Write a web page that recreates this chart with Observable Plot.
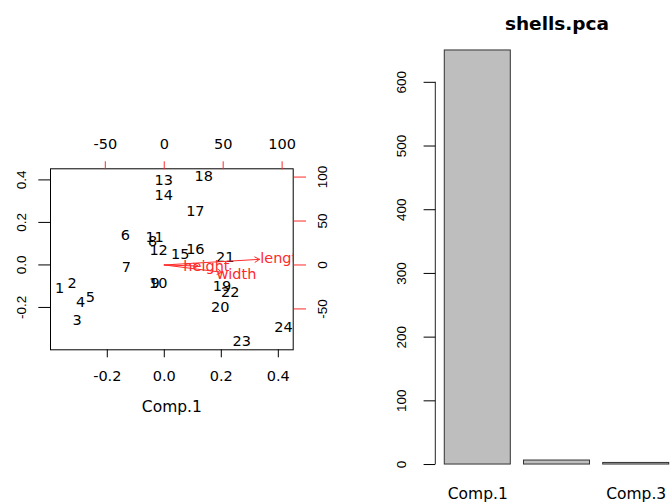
<!DOCTYPE html>
<html><head><meta charset="utf-8">
<script src="https://cdn.jsdelivr.net/npm/d3@7"></script>
<script src="https://cdn.jsdelivr.net/npm/@observablehq/plot@0.6"></script>
<style>
html,body{margin:0;padding:0;background:#fff;}
#fig{position:relative;width:671px;height:503px;overflow:hidden;background:#fff;}
.panel{position:absolute;top:0;}
</style></head><body><div id="fig"></div>
<script>
// ---- biplot data (scores on Comp.1 / Comp.2) ----
const sampleIds = ["1","2","3","4","5","6","7","8","9","10","11","12","13","14","15","16","17","18","19","20","21","22","23","24"];
const comp1 = [-0.367,-0.323,-0.306,-0.294,-0.259,-0.137,-0.133,-0.041,-0.032,-0.021,-0.034,-0.020,-0.002,-0.002,0.056,0.109,0.109,0.138,0.202,0.196,0.214,0.231,0.272,0.418];
const comp2 = [-0.112,-0.085,-0.261,-0.175,-0.151,0.139,-0.010,0.111,-0.088,-0.088,0.131,0.069,0.398,0.328,0.050,0.072,0.254,0.417,-0.099,-0.201,0.037,-0.128,-0.358,-0.292];
// ---- variable loadings ----
const varNames = ["length","width","height"];
const load1 = [101, 61.2, 35.8];
const load2 = [8, -10.4, -1.5];
// ---- scree data ----
const screeNames = ["Comp.1","Comp.2","Comp.3"];
const screeVar = [650, 6.3, 2.5];
const screeShown = ["Comp.1","Comp.3"];
// ---- ticks ----
const scoreTicks = [-0.2, 0, 0.2, 0.4];
const loadTicks = [-50, 0, 50, 100];
const screeTicks = [0, 100, 200, 300, 400, 500, 600];
const scoreLim = [-0.3992, 0.4522];
const loadLim = [-96.5, 109.4];

const RED = "#ff2a2a";
const WIDE = "DejaVu Sans";
const baseStyle = {background: "transparent", fontFamily: "Liberation Sans, Arial, sans-serif", color: "black", overflow: "visible"};

const scores = sampleIds.map((id, i) => ({id, c1: comp1[i], c2: comp2[i]}));
const vars = varNames.map((name, i) => ({name, l1: load1[i], l2: load2[i]}));
const scree = screeNames.map((name, i) => ({name, v: screeVar[i]}));

const H = 503, W1 = 380;
const m1 = {marginLeft: 50, marginRight: 87.3, marginTop: 168.3, marginBottom: 153.7};

const plotA = Plot.plot({
  width: W1, height: H, ...m1, style: baseStyle,
  x: {domain: scoreLim, label: null}, y: {domain: scoreLim, label: null},
  marks: [
    Plot.frame({stroke: "black"}),
    Plot.axisX(scoreTicks, {anchor: "bottom", label: null, tickSize: 8, tickPadding: 12.5, tickFormat: d => d.toFixed(1), fontSize: 14.5, fontFamily: WIDE}),
    Plot.axisY(scoreTicks, {anchor: "left", label: null, tickSize: 11.7, tickPadding: 13.3, tickRotate: -90, lineAnchor: "bottom", tickFormat: d => d.toFixed(1), fontSize: 13.5}),
    Plot.text(["Comp.1"], {frameAnchor: "bottom", dy: 61.7, fontSize: 15.5, fontFamily: WIDE}),
    Plot.text(scores, {x: "c1", y: "c2", text: "id", fontSize: 14.5, fontFamily: WIDE, fill: "black"})
  ]
});

const plotB = Plot.plot({
  width: W1, height: H, ...m1, style: baseStyle,
  x: {domain: loadLim, label: null}, y: {domain: loadLim, label: null},
  marks: [
    Plot.axisX(loadTicks, {anchor: "top", label: null, tickSize: 8, tickPadding: 12.3, stroke: RED, tickFormat: d => String(d), fontSize: 14.5, fontFamily: WIDE}),
    Plot.axisY(loadTicks, {anchor: "right", label: null, tickSize: 12.3, tickPadding: 11.7, tickRotate: -90, lineAnchor: "top", stroke: RED, tickFormat: d => String(d), fontSize: 13.5}),
    Plot.arrow(vars, {x1: d => 0, y1: d => 0, x2: d => 0.8 * d.l1, y2: d => 0.8 * d.l2, stroke: RED, strokeWidth: 1, headLength: 8}),
    Plot.text(vars, {x: "l1", y: "l2", text: "name", fill: RED, fontSize: 14.5, fontFamily: WIDE, clip: "frame"})
  ]
});

function yAxisLine(index, scales, values, dims) {
  const l = document.createElementNS("http://www.w3.org/2000/svg", "line");
  l.setAttribute("x1", dims.marginLeft); l.setAttribute("x2", dims.marginLeft);
  l.setAttribute("y1", scales.y(screeTicks[0])); l.setAttribute("y2", scales.y(screeTicks[screeTicks.length - 1]));
  l.setAttribute("stroke", "#222"); l.setAttribute("stroke-width", 1);
  return l;
}

const plotC = Plot.plot({
  width: 320, height: H, marginLeft: 55.3, marginRight: 22.3, marginTop: 33.4, marginBottom: 22.4,
  style: baseStyle,
  x: {type: "band", domain: screeNames, paddingInner: 1/6, paddingOuter: 0.1133, align: 0.5, round: false, label: null},
  y: {domain: [-26, 676], label: null},
  marks: [
    Plot.barY(scree, {x: "name", y: "v", fill: "#bebebe", stroke: "#333", strokeWidth: 1}),
    yAxisLine,
    Plot.axisY(screeTicks, {anchor: "left", label: null, tickSize: 11.7, tickPadding: 18.6, tickRotate: -90, lineAnchor: "bottom", tickFormat: d => String(d), fontSize: 13.5}),
    Plot.axisX({anchor: "bottom", label: null, tickSize: 0, tickPadding: 7, tickFormat: d => screeShown.includes(d) ? d : "", fontSize: 15.5, fontFamily: WIDE}),
    Plot.text(["shells.pca"], {frameAnchor: "top", dy: -17.1, fontWeight: "bold", fontSize: 18.5, fontFamily: WIDE})
  ]
});

const fig = document.getElementById("fig");
function place(el, left, w) {
  const d = document.createElement("div");
  d.className = "panel"; d.style.left = left + "px"; d.style.width = w + "px"; d.style.height = H + "px";
  d.appendChild(el); fig.appendChild(d);
}
place(plotA, 0, W1);
place(plotB, 0, W1);
place(plotC, 380, 320);
</script></body></html>
